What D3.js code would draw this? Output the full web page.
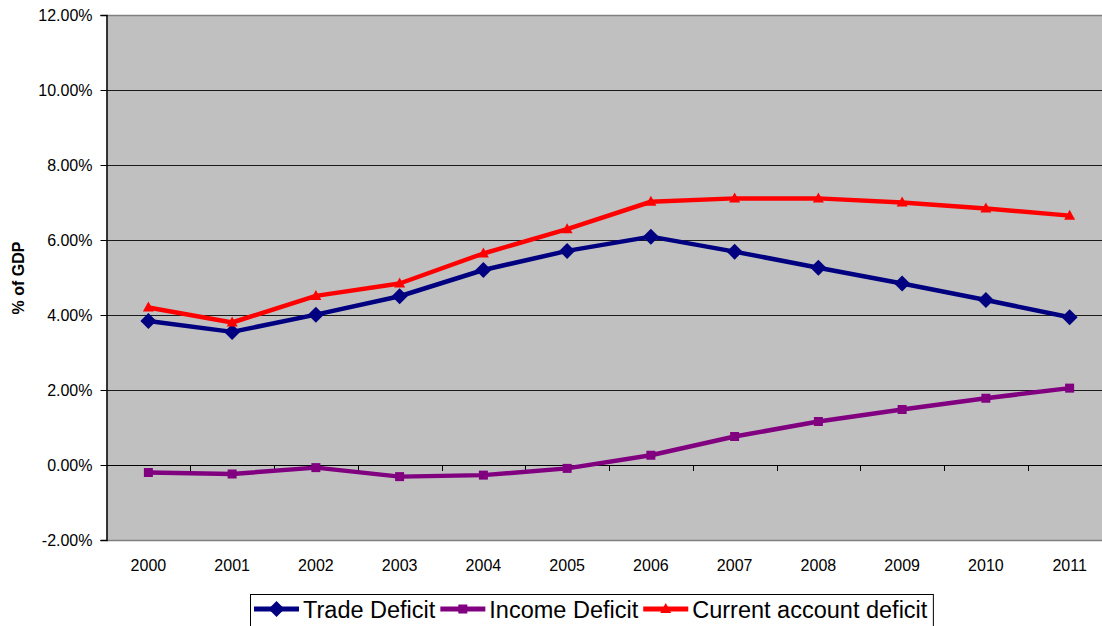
<!DOCTYPE html>
<html>
<head>
<meta charset="utf-8">
<script src="https://cdn.jsdelivr.net/npm/d3@7"></script>
<style>
  html, body { margin: 0; padding: 0; background: #fff; }
  svg { display: block; font-family: Arial, "Liberation Sans", sans-serif; }
</style>
</head>
<body>
<svg id="chart" width="1102" height="626"></svg>
<script>
// US external balances, share of GDP
const years = ["2000","2001","2002","2003","2004","2005","2006","2007","2008","2009","2010","2011"];
const tradeDeficit   = [3.84, 3.55, 4.01, 4.50, 5.20, 5.71, 6.09, 5.69, 5.26, 4.84, 4.40, 3.94];
const incomeDeficit  = [-0.20, -0.24, -0.07, -0.31, -0.27, -0.09, 0.26, 0.76, 1.16, 1.48, 1.78, 2.05];
const currentAccount = [4.20, 3.80, 4.51, 4.84, 5.64, 6.29, 7.02, 7.11, 7.11, 7.00, 6.84, 6.65];
const yTicks = [-2, 0, 2, 4, 6, 8, 10, 12];

const seriesList = [
  { name: "Trade Deficit", values: tradeDeficit, color: "#000080", marker: "diamond" },
  { name: "Income Deficit", values: incomeDeficit, color: "#800080", marker: "square" },
  { name: "Current account deficit", values: currentAccount, color: "#FF0000", marker: "triangle" }
];

const svg = d3.select("#chart");
const plot = { left: 106.5, top: 15, right: 1111.5, bottom: 540 };

const x = d3.scaleBand().domain(years).range([plot.left, plot.right]).paddingInner(0).paddingOuter(0);
const y = d3.scaleLinear().domain([-2, 12]).range([plot.bottom, plot.top]);
const cx = d => x(d) + x.bandwidth() / 2;

// plot background
svg.append("rect")
  .attr("x", plot.left).attr("y", plot.top)
  .attr("width", plot.right - plot.left).attr("height", plot.bottom - plot.top)
  .attr("fill", "#C0C0C0");

// horizontal gridlines
svg.append("g").selectAll("line")
  .data(yTicks.filter(t => t > -2 && t < 12))
  .join("line")
  .attr("x1", plot.left).attr("x2", plot.right)
  .attr("y1", d => Math.round(y(d)) + 0.5).attr("y2", d => Math.round(y(d)) + 0.5)
  .attr("stroke", "#1a1a1a").attr("stroke-width", 1.2);

// plot border (top and bottom)
svg.append("line")
  .attr("x1", plot.left).attr("x2", plot.right)
  .attr("y1", Math.round(y(12)) + 0.5).attr("y2", Math.round(y(12)) + 0.5)
  .attr("stroke", "#808080").attr("stroke-width", 1.5);
svg.append("line")
  .attr("x1", plot.left).attr("x2", plot.right)
  .attr("y1", Math.round(y(-2)) + 0.5).attr("y2", Math.round(y(-2)) + 0.5)
  .attr("stroke", "#808080").attr("stroke-width", 1.5);

// y axis, hyphen-minus for negative labels
const pct = d => (d < 0 ? "-" : "") + d3.format(".2f")(Math.abs(d)) + "%";
const yAxis = d3.axisLeft(y)
  .tickValues(yTicks)
  .tickSize(6)
  .tickPadding(8)
  .tickFormat(pct);
const gy = svg.append("g")
  .attr("transform", `translate(${plot.left},0)`)
  .call(yAxis);
gy.select(".domain").attr("stroke", "#000").attr("stroke-width", 1.5);
gy.selectAll(".tick line").attr("stroke", "#000");
gy.selectAll(".tick text")
  .attr("font-size", "16px").attr("fill", "#000")
  .attr("font-family", "Arial, 'Liberation Sans', sans-serif");

// category axis crossing at zero, ticks between categories
svg.append("line")
  .attr("x1", plot.left).attr("x2", plot.right)
  .attr("y1", Math.round(y(0)) + 0.5).attr("y2", Math.round(y(0)) + 0.5)
  .attr("stroke", "#000").attr("stroke-width", 1.2);
svg.append("g").selectAll("line")
  .data(years.slice(1))
  .join("line")
  .attr("x1", d => Math.round(x(d)) + 0.5).attr("x2", d => Math.round(x(d)) + 0.5)
  .attr("y1", Math.round(y(0))).attr("y2", Math.round(y(0)) + 6)
  .attr("stroke", "#000").attr("stroke-width", 1);

// category labels under the plot
svg.append("g").selectAll("text")
  .data(years)
  .join("text")
  .attr("x", d => cx(d))
  .attr("y", 571)
  .attr("text-anchor", "middle")
  .attr("font-size", "16px")
  .attr("fill", "#000")
  .text(d => d);

// y axis title
svg.append("text")
  .attr("transform", "translate(24,278) rotate(-90)")
  .attr("text-anchor", "middle")
  .attr("font-size", "16px")
  .attr("font-weight", "bold")
  .attr("fill", "#000")
  .text("% of GDP");

// marker shapes
function drawMarker(g, type, px, py, color) {
  if (type === "diamond") {
    const r = 8;
    g.append("path")
      .attr("d", `M${px},${py - r}L${px + r},${py}L${px},${py + r}L${px - r},${py}Z`)
      .attr("fill", color);
  } else if (type === "square") {
    const s = 9;
    g.append("rect")
      .attr("x", px - s / 2).attr("y", py - s / 2)
      .attr("width", s).attr("height", s)
      .attr("fill", color);
  } else {
    const w = 11, h = 10;
    g.append("path")
      .attr("d", `M${px},${py - h * 0.6}L${px + w / 2},${py + h * 0.4}L${px - w / 2},${py + h * 0.4}Z`)
      .attr("fill", color);
  }
}

// series lines and markers
const line = d3.line().x((d, i) => cx(years[i])).y(d => y(d));
seriesList.forEach(s => {
  const g = svg.append("g");
  g.append("path")
    .attr("d", line(s.values))
    .attr("fill", "none")
    .attr("stroke", s.color)
    .attr("stroke-width", 4.5)
    .attr("stroke-linejoin", "round");
  s.values.forEach((v, i) => drawMarker(g, s.marker, cx(years[i]), y(v), s.color));
});

// legend
const legend = svg.append("g");
const legendBox = legend.append("rect")
  .attr("x", 250.5).attr("y", 594.5)
  .attr("height", 40)
  .attr("fill", "#fff").attr("stroke", "#000").attr("stroke-width", 1);
let lx = 254;
const ly = 609;
seriesList.forEach(s => {
  legend.append("line")
    .attr("x1", lx).attr("x2", lx + 45)
    .attr("y1", ly).attr("y2", ly)
    .attr("stroke", s.color).attr("stroke-width", 5);
  drawMarker(legend, s.marker, lx + 22.5, ly, s.color);
  const t = legend.append("text")
    .attr("x", lx + 49)
    .attr("y", ly + 8.5)
    .attr("font-size", "23.5px")
    .attr("fill", "#000")
    .text(s.name);
  lx = lx + 49 + t.node().getComputedTextLength() + 5;
});
legendBox.attr("width", lx - 250.5 + 1);
</script>
</body>
</html>
